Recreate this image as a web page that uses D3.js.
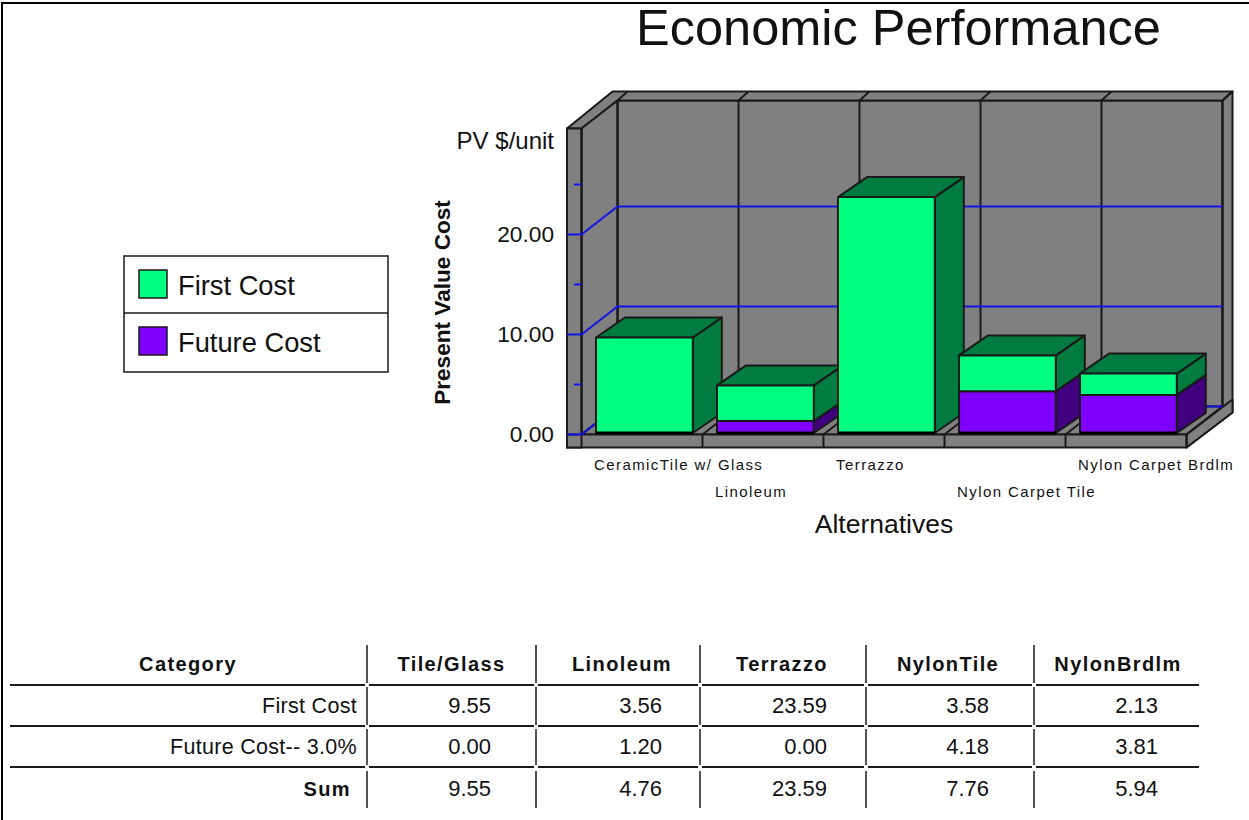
<!DOCTYPE html>
<html>
<head>
<meta charset="utf-8">
<script src="https://d3js.org/d3.v7.min.js"></script>
<style>
  html, body { margin: 0; padding: 0; background: #fff; }
  svg { display: block; }
  text { font-family: "Liberation Sans", Arial, sans-serif; fill: #111; }
  .cat { font-size: 15px; letter-spacing: 1.4px; }
  .th { font-size: 20px; font-weight: bold; letter-spacing: 1.4px; text-anchor: middle; }
  .td { font-size: 22px; text-anchor: end; }
  .rowname { font-size: 21.5px; text-anchor: end; letter-spacing: 0.3px; }
</style>
</head>
<body>
<div id="chart"></div>
<script>
// data
const categories = ["CeramicTile w/ Glass", "Linoleum", "Terrazzo", "Nylon Carpet Tile", "Nylon Carpet Brdlm"];
const firstCost = [9.55, 3.56, 23.59, 3.58, 2.13];
const futureCost = [0.00, 1.20, 0.00, 4.18, 3.81];
const sumCost = [9.55, 4.76, 23.59, 7.76, 5.94];
const majorTicks = [0, 10, 20];
const minorTicks = [5, 15, 25];
const legendLabels = ["First Cost", "Future Cost"];
const tableHeaders = ["Category", "Tile/Glass", "Linoleum", "Terrazzo", "NylonTile", "NylonBrdlm"];
const tableRowNames = ["First Cost", "Future Cost-- 3.0%", "Sum"];

const width = 1249, height = 820;

const svg = d3.select("#chart").append("svg")
    .attr("width", width)
    .attr("height", height);

// picture frame, top and left only
svg.append("path")
    .attr("d", "M2,820V3H1249")
    .attr("fill", "none")
    .attr("stroke", "#000")
    .attr("stroke-width", 2);

svg.append("text")
    .attr("x", 898.5).attr("y", 45)
    .attr("text-anchor", "middle")
    .attr("font-size", 50.5)
    .text("Economic Performance");

// scales
const y = d3.scaleLinear().domain([0, 30.6]).range([434.5, 128.5]);
const x = d3.scaleBand().domain(categories).range([581.5, 1186.5]).paddingInner(0.2).paddingOuter(0.1);
const color = d3.scaleOrdinal().domain(["first", "future"]).range(["#00ff80", "#8000ff"]);
const sideColor = d3.scaleOrdinal().domain(["first", "future"]).range(["#007c40", "#400080"]);

const wallDx = 36, wallDy = -28;   // depth of the chart box
const barDx = 29, barDy = -20;     // depth of one bar
const edges = d3.range(categories.length + 1).map(i => x.range()[0] + i * x.step());
const left = x.range()[0], right = x.range()[1];
const y0 = y(0), yTop = y.range()[1];
const line = "#1a1a1a", wall = "#808080", blue = "#1414e6";

function poly(g, pts, fill, sw) {
    return g.append("polygon")
        .attr("points", pts.map(p => p.join(",")).join(" "))
        .attr("fill", fill)
        .attr("stroke", line)
        .attr("stroke-width", sw || 2)
        .attr("stroke-linejoin", "round");
}

function seg(g, x1, y1, x2, y2, stroke, sw) {
    return g.append("line")
        .attr("x1", x1).attr("y1", y1).attr("x2", x2).attr("y2", y2)
        .attr("stroke", stroke).attr("stroke-width", sw || 2);
}

// chart box
const box = svg.append("g");
const backL = left + wallDx, backR = right + wallDx;
const backT = yTop + wallDy, backB = y0 + wallDy;

// back wall, top strip, right strip
poly(box, [[backL, backT], [backR, backT], [backR, backB], [backL, backB]], wall);
poly(box, [[567, yTop], [backL - 5, backT - 9], [backR + 10, backT - 9], [backR, backT], [backL, backT], [left, yTop]], wall);
poly(box, [[backR, backT], [backR + 10, backT - 9], [backR + 10, backB + 6], [right, y0 + 13], [right, y0], [backR, backB]], wall);

// left wall
poly(box, [[left, yTop], [backL, backT], [backL, backB], [left, y0]], wall);

// floor
poly(box, [[left, y0], [backL, backB], [backR, backB], [right, y0]], wall);
poly(box, [[right, y0], [backR + 10, backB - 7], [backR + 10, backB + 6], [right, y0 + 13]], wall);

// back wall verticals with their stubs in the top strip and on the floor
edges.forEach(e => {
    seg(box, e + wallDx, backT, e + wallDx, backB, line);
    seg(box, e + wallDx, backT, e + wallDx + 10, backT - 9, line);
    seg(box, e, y0, e + wallDx, backB, line);
});

// front faces of the left wall and the floor
box.append("rect")
    .attr("x", 567).attr("y", yTop).attr("width", left - 567).attr("height", y0 - yTop + 13)
    .attr("fill", wall).attr("stroke", line).attr("stroke-width", 2);
box.append("rect")
    .attr("x", 567).attr("y", y0).attr("width", right - 567).attr("height", 13)
    .attr("fill", wall).attr("stroke", line).attr("stroke-width", 2);
seg(box, left, yTop, left, y0 + 13, line);
edges.slice(1).forEach(e => seg(box, e, y0, e, y0 + 13, line));

// gridlines run across the front of the wall, the left wall and the back wall
majorTicks.forEach(v => {
    box.append("path")
        .attr("d", `M567,${y(v)}H${left}L${backL},${y(v) + wallDy}H${backR}`)
        .attr("fill", "none")
        .attr("stroke", blue)
        .attr("stroke-width", 2);
});
minorTicks.forEach(v => seg(box, 574, y(v), left, y(v), blue));

// stacked 3d bars, left to right so each one covers the side of the last
const rows = categories.map((c, i) => ({ category: c, first: firstCost[i], future: futureCost[i] }));
const stacked = d3.stack().keys(["future", "first"])(rows);
const bars = svg.append("g").attr("transform", "translate(2.4,-1.5)");

categories.forEach((c, i) => {
    stacked.forEach(layer => {
        const d = layer[i];
        if (d[1] - d[0] <= 0) return;
        const x1 = x(c), x2 = x(c) + x.bandwidth();
        const yb = y(d[0]), yt = y(d[1]);
        poly(bars, [[x2, yb], [x2 + barDx, yb + barDy], [x2 + barDx, yt + barDy], [x2, yt]], sideColor(layer.key));
        poly(bars, [[x1, yt], [x1 + barDx, yt + barDy], [x2 + barDx, yt + barDy], [x2, yt]], sideColor(layer.key));
        poly(bars, [[x1, yb], [x2, yb], [x2, yt], [x1, yt]], color(layer.key));
    });
    seg(bars, x(c), y0, x(c) + x.bandwidth(), y0, "#000", 3);
});

// y axis labels
const yAxis = svg.append("g")
    .attr("transform", "translate(567,0)")
    .call(d3.axisLeft(y).tickValues(majorTicks).tickFormat(d3.format(".2f")).tickSize(0).tickPadding(13));
yAxis.select(".domain").remove();
yAxis.selectAll("text")
    .style("font-family", '"Liberation Sans", Arial, sans-serif')
    .style("font-size", "22.7px")
    .style("fill", "#111");

svg.append("text")
    .attr("x", 554).attr("y", 149)
    .attr("text-anchor", "end")
    .attr("font-size", 24)
    .text("PV $/unit");

svg.append("text")
    .attr("transform", "translate(450,302.5) rotate(-90)")
    .attr("text-anchor", "middle")
    .attr("font-size", 22.6)
    .attr("font-weight", "bold")
    .text("Present Value Cost");

svg.append("text")
    .attr("x", 884).attr("y", 533)
    .attr("text-anchor", "middle")
    .attr("font-size", 26.5)
    .text("Alternatives");

// category labels on two staggered rows
svg.selectAll(".cat")
    .data(categories)
    .join("text")
    .attr("class", "cat")
    .attr("x", d => x(d) + 0.5)
    .attr("y", (d, i) => i % 2 ? 497 : 470)
    .text(d => d);

// legend
const legend = svg.append("g");
legend.append("rect")
    .attr("x", 124).attr("y", 256).attr("width", 264).attr("height", 116)
    .attr("fill", "#fff").attr("stroke", line).attr("stroke-width", 1.5);
seg(legend, 124, 313, 388, 313, line, 1.5);
legendLabels.forEach((label, i) => {
    legend.append("rect")
        .attr("x", 139).attr("y", 270 + i * 57).attr("width", 28).attr("height", 28)
        .attr("fill", color.range()[i]).attr("stroke", line).attr("stroke-width", 1.5);
    legend.append("text")
        .attr("x", 178).attr("y", 295 + i * 57)
        .attr("font-size", 27.3)
        .text(label);
});

// table under the chart
const table = svg.append("g");
const colSeps = [367, 536, 700, 866, 1034];
const colRight = [491, 662, 827, 989, 1158];
const headCenter = [188, 451.5, 622, 782, 948, 1118];
const rowLines = [685, 726, 767];
const rowBands = [[645, 683], [687, 725], [729, 765], [771, 808]];
const rowText = [713, 754, 796];
const tableValues = [firstCost, futureCost, sumCost];

rowLines.forEach(ly => {
    [10].concat(colSeps.map(s => s + 2)).forEach((start, i) => {
        const end = i < colSeps.length ? colSeps[i] - 2 : 1199;
        seg(table, start, ly, end, ly, line);
    });
});
colSeps.forEach(s => rowBands.forEach(b => seg(table, s, b[0], s, b[1], line, 1.5)));
tableHeaders.forEach((h, i) => {
    table.append("text").attr("class", "th")
        .attr("x", headCenter[i]).attr("y", 671)
        .text(h);
});
tableRowNames.forEach((name, r) => {
    table.append("text").attr("class", r === 2 ? "th" : "rowname")
        .attr("x", r === 2 ? 351 : 357).attr("y", rowText[r])
        .style("text-anchor", "end")
        .text(name);
    tableValues[r].forEach((v, c) => {
        table.append("text").attr("class", "td")
            .attr("x", colRight[c]).attr("y", rowText[r])
            .text(d3.format(".2f")(v));
    });
});
</script>
</body>
</html>
